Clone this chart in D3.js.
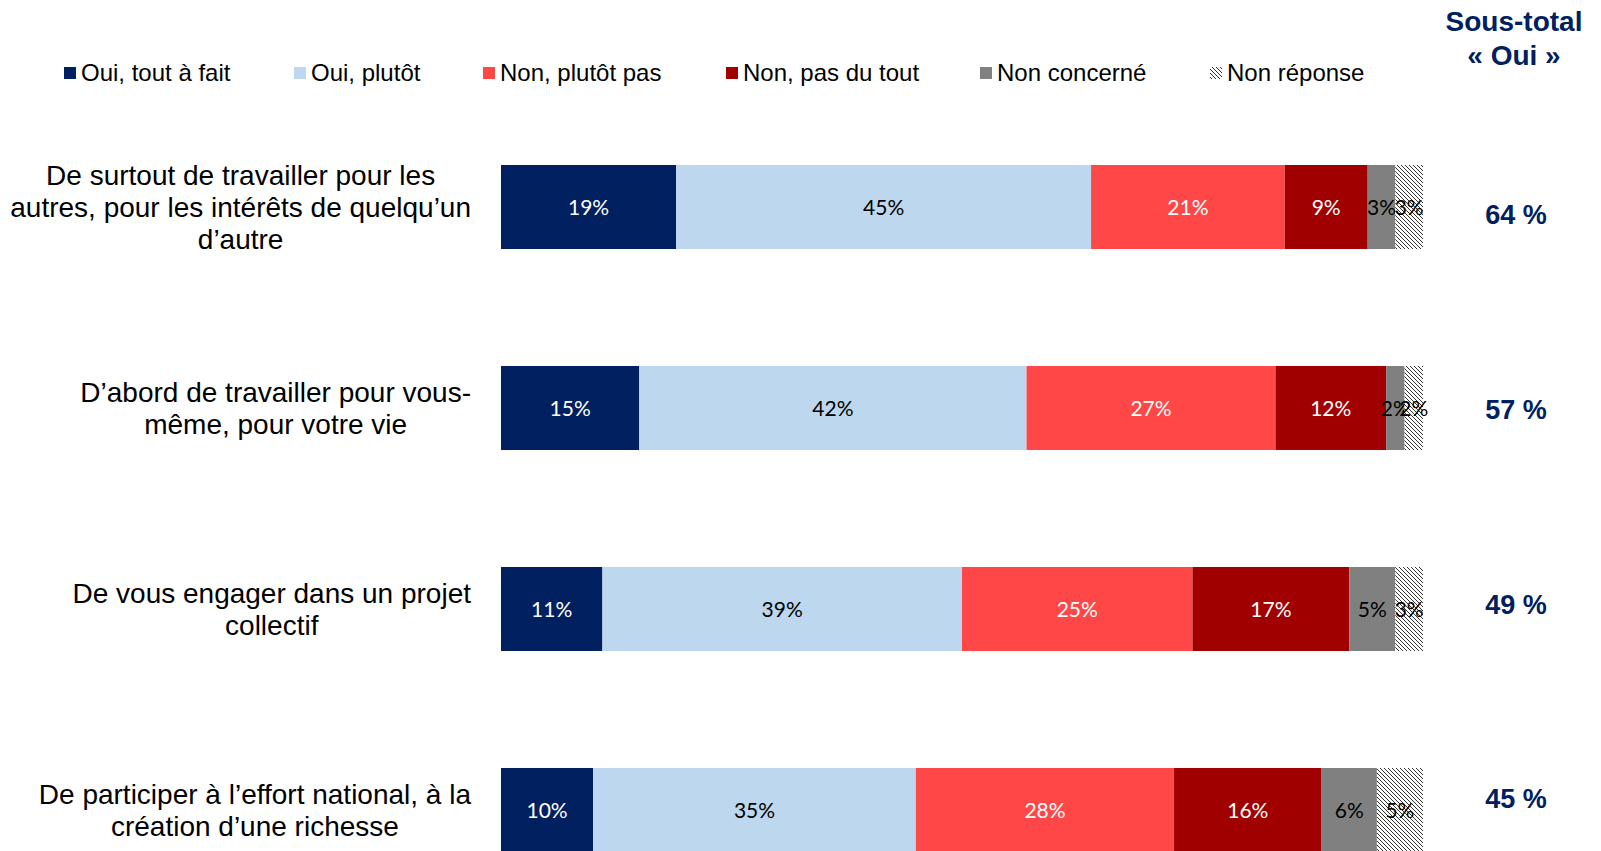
<!DOCTYPE html>
<html>
<head>
<meta charset="utf-8">
<script src="https://cdn.jsdelivr.net/npm/d3@7"></script>
<style>
  body { margin: 0; background: #fff; }
  svg text { font-family: "Liberation Sans", Arial, sans-serif; }
</style>
</head>
<body>
<div id="chart"></div>
<script>
// Questions (line breaks as in the original slide)
let categories = [
    ["De surtout de travailler pour les", "autres, pour les intérêts de quelqu’un", "d’autre"],
    ["D’abord de travailler pour vous-", "même, pour votre vie"],
    ["De vous engager dans un projet", "collectif"],
    ["De participer à l’effort national, à la", "création d’une richesse"]
];

let seriesNames = ["Oui, tout à fait", "Oui, plutôt", "Non, plutôt pas", "Non, pas du tout", "Non concerné", "Non réponse"];

// Values in %
let toutAFait   = [19, 15, 11, 10];
let plutot      = [45, 42, 39, 35];
let plutotPas   = [21, 27, 25, 28];
let pasDuTout   = [9, 12, 17, 16];
let nonConcerne = [3, 2, 5, 6];
let nonReponse  = [3, 2, 3, 5];

let sousTotal = [64, 57, 49, 45];

let width = 1601;
let height = 851;

let colors = d3.scaleOrdinal()
    .domain(seriesNames)
    .range(["#002060", "#BDD7EE", "#FF4747", "#A00000", "#808080", "url(#hatch)"]);

let labelColors = d3.scaleOrdinal()
    .domain(seriesNames)
    .range(["#fff", "#000", "#fff", "#fff", "#000", "#000"]);

let svg = d3.select("#chart")
    .append("svg")
    .attr("width", width)
    .attr("height", height);

// hatch pattern for "Non réponse"
let pattern = svg.append("defs").append("pattern")
    .attr("id", "hatch")
    .attr("patternUnits", "userSpaceOnUse")
    .attr("width", 4)
    .attr("height", 4);
pattern.append("rect").attr("width", 4).attr("height", 4).attr("fill", "#fff");
pattern.append("path")
    .attr("d", "M-1,-1 L5,5 M-1,3 L1,5 M3,-1 L5,1")
    .attr("stroke", "#333")
    .attr("stroke-width", 1);

// build rows for the stack
let rows = categories.map(function(c, i) {
    return {
        idx: i,
        "Oui, tout à fait": toutAFait[i],
        "Oui, plutôt": plutot[i],
        "Non, plutôt pas": plutotPas[i],
        "Non, pas du tout": pasDuTout[i],
        "Non concerné": nonConcerne[i],
        "Non réponse": nonReponse[i]
    };
});

let stacked = d3.stack().keys(seriesNames)(rows);

let xScale = d3.scaleLinear().domain([0, 100]).range([501, 1423]);
let yScale = d3.scaleBand()
    .domain(d3.range(categories.length))
    .range([165, 852])
    .paddingInner(0.582)
    .paddingOuter(0);

// bars
let layers = svg.selectAll(".layer")
    .data(stacked)
    .enter().append("g")
    .attr("class", "layer");

layers.selectAll("rect")
    .data(function(d) { return d.map(function(p) { return {key: d.key, p: p}; }); })
    .enter().append("rect")
    .attr("x", function(d) { return xScale(d.p[0]); })
    .attr("y", function(d) { return yScale(d.p.data.idx); })
    .attr("width", function(d) { return xScale(d.p[1]) - xScale(d.p[0]); })
    .attr("height", yScale.bandwidth())
    .attr("fill", function(d) { return colors(d.key); });

layers.selectAll("text")
    .data(function(d) { return d.map(function(p) { return {key: d.key, p: p}; }); })
    .enter().append("text")
    .attr("x", function(d) { return xScale((d.p[0] + d.p[1]) / 2); })
    .attr("y", function(d) { return yScale(d.p.data.idx) + yScale.bandwidth() / 2; })
    .attr("dy", "0.36em")
    .attr("text-anchor", "middle")
    .style("font-family", "Lato, 'Open Sans', sans-serif")
    .style("font-size", "21px")
    .attr("fill", function(d) { return labelColors(d.key); })
    .text(function(d) { return (d.p[1] - d.p[0]) + "%"; });

// category labels: block right-aligned, lines centred inside it
let labelRight = 471;
let lineH = 32;
categories.forEach(function(lines, i) {
    let cy = yScale(i) + yScale.bandwidth() / 2;
    let g = svg.append("g");
    let texts = g.selectAll("text")
        .data(lines)
        .enter().append("text")
        .attr("y", function(d, j) { return cy + (j - (lines.length - 1) / 2) * lineH; })
        .attr("dy", "0.35em")
        .attr("text-anchor", "middle")
        .style("font-size", "28px")
        .attr("fill", "#000")
        .text(function(d) { return d; });
    let maxW = d3.max(texts.nodes(), function(n) { return n.getComputedTextLength(); });
    texts.attr("x", labelRight - maxW / 2);
});

// legend
let legendX = [64, 294, 483, 726, 980, 1210];
let legend = svg.selectAll(".legend")
    .data(seriesNames)
    .enter().append("g")
    .attr("class", "legend")
    .attr("transform", function(d, i) { return "translate(" + legendX[i] + ",73)"; });

legend.append("rect")
    .attr("x", 0)
    .attr("y", -6)
    .attr("width", 12)
    .attr("height", 12)
    .attr("fill", function(d) { return colors(d); });

legend.append("text")
    .attr("x", 17)
    .attr("dy", "0.35em")
    .style("font-size", "24px")
    .attr("fill", "#000")
    .text(function(d) { return d; });

// Sous-total column
let subX = 1514;
svg.append("text")
    .attr("x", subX).attr("y", 21).attr("dy", "0.35em")
    .attr("text-anchor", "middle")
    .style("font-size", "28px").style("font-weight", "bold")
    .attr("fill", "#002060")
    .text("Sous-total");
svg.append("text")
    .attr("x", subX).attr("y", 55).attr("dy", "0.35em")
    .attr("text-anchor", "middle")
    .style("font-size", "28px").style("font-weight", "bold")
    .attr("fill", "#002060")
    .text("« Oui »");

let ySub = d3.scalePoint().domain(d3.range(sousTotal.length)).range([215, 799]);
svg.selectAll(".subtotal")
    .data(sousTotal)
    .enter().append("text")
    .attr("class", "subtotal")
    .attr("x", subX + 2)
    .attr("y", function(d, i) { return ySub(i); })
    .attr("dy", "0.35em")
    .attr("text-anchor", "middle")
    .style("font-size", "27px").style("font-weight", "bold")
    .attr("fill", "#002060")
    .text(function(d) { return d + " %"; });
</script>
</body>
</html>
